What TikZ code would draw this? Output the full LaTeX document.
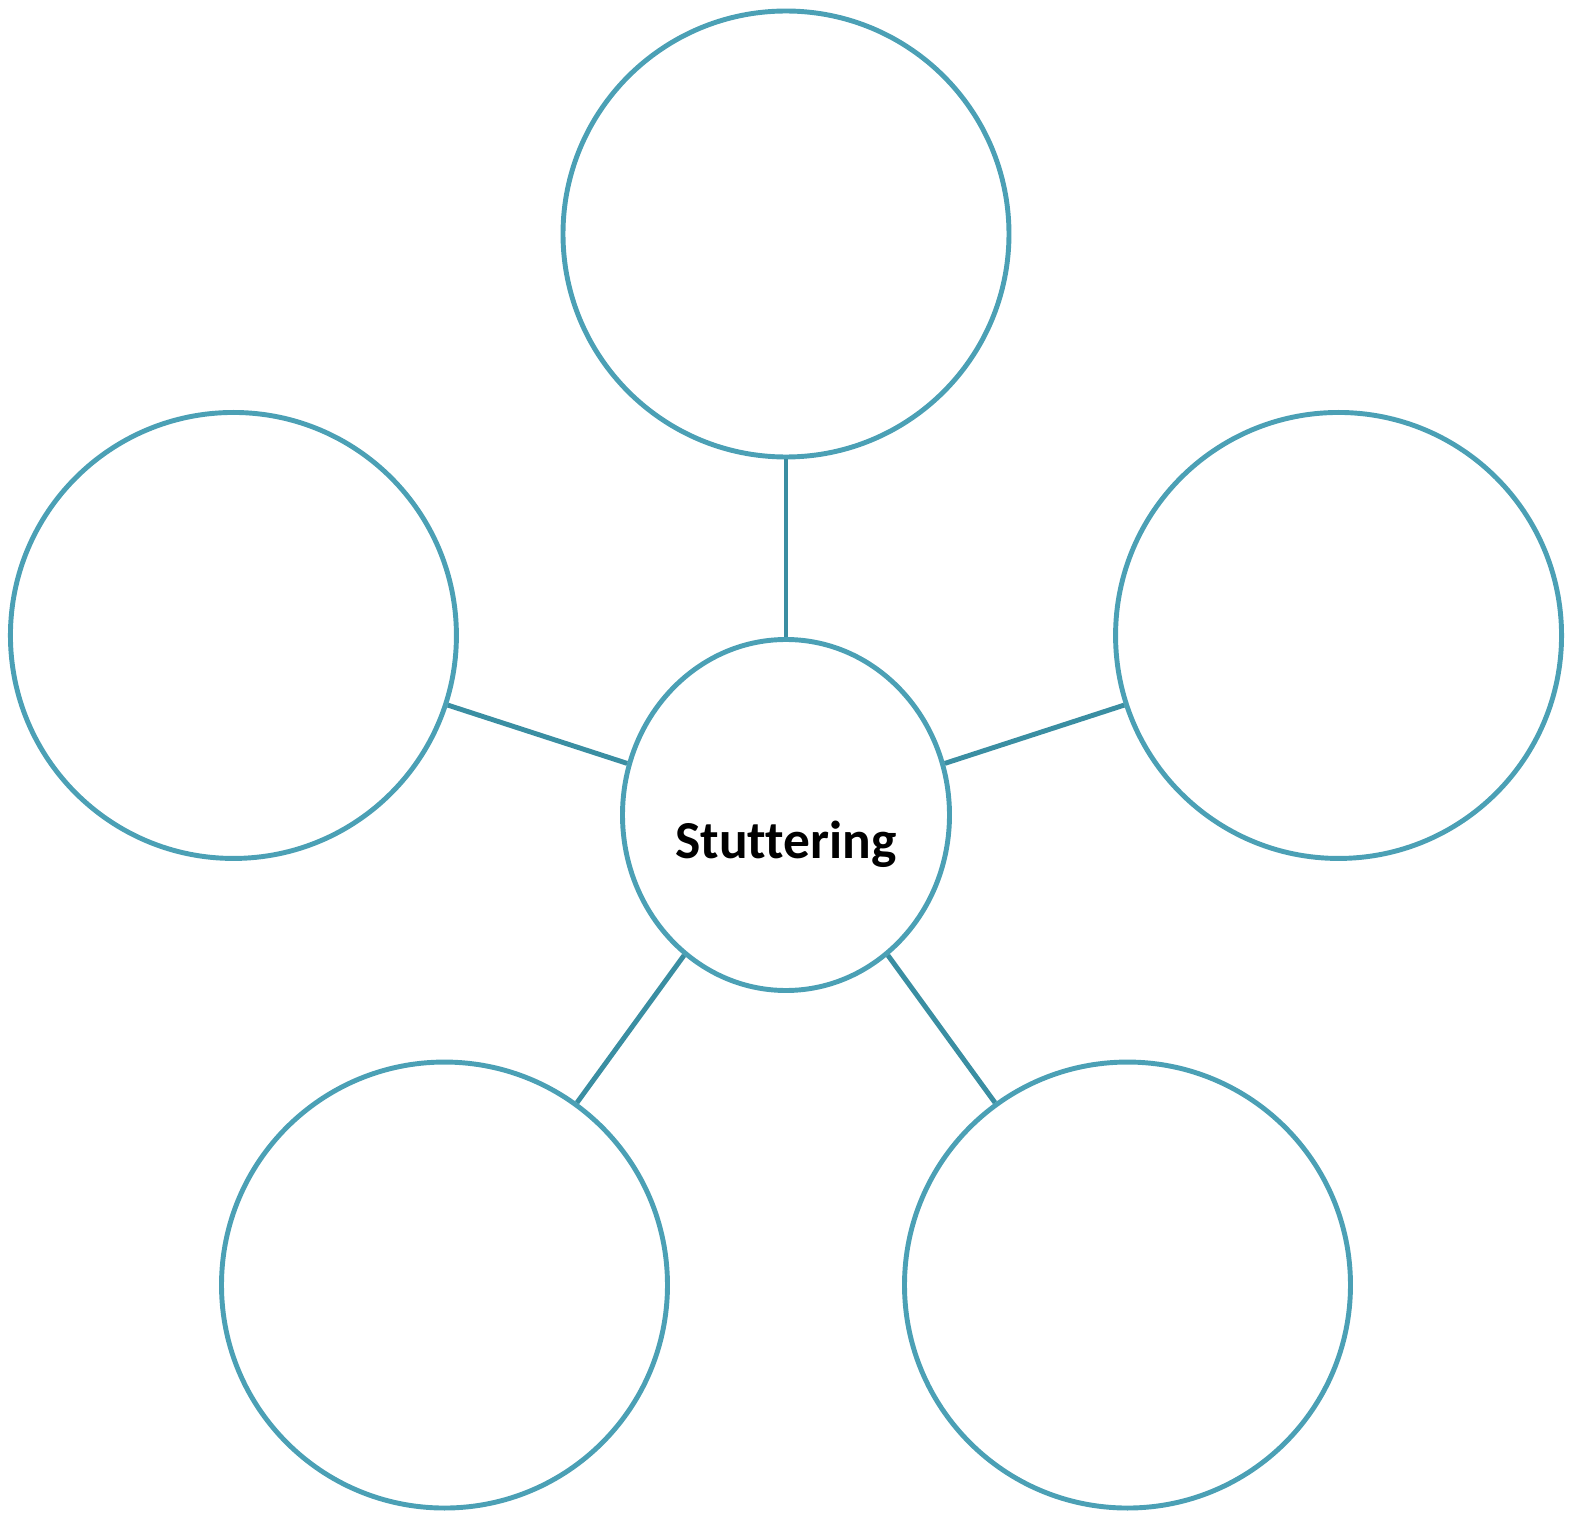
\documentclass[tikz,border=0pt]{standalone}
\usepackage{fontspec}
\setmainfont{Carlito}[RawFeature=-liga]
\usetikzlibrary{shapes.geometric}
\definecolor{ringblue}{HTML}{4BA0B5}
\definecolor{spokeblue}{HTML}{3A8EA2}

\begin{document}
\begin{tikzpicture}[line width=1.4pt]
  \useasboundingbox (0,0) rectangle (15.69,15.14);
  \tikzset{
    hubshape/.style={ellipse,draw=ringblue,inner sep=0pt,minimum width=3.27cm,minimum height=3.51cm},
    bubble/.style={circle,draw=ringblue,inner sep=0pt,minimum size=4.46cm},
    spoke/.style={draw=spokeblue}
  }
  \node[hubshape] (hub) at (7.86,6.99) {};
  \node[font=\bfseries\fontsize{15.2}{17}\selectfont] (hubtext) at ([yshift=-0.29cm]hub.center) {Stuttering};
  \foreach \ang/\nm in {90/top,162/left,18/right,234/lowleft,306/lowright}{
    \node[bubble] (\nm) at ([shift={(\ang:5.81)}]hub.center) {};
    \draw[spoke] (hub)--(\nm);
  }
\end{tikzpicture}
\end{document}
